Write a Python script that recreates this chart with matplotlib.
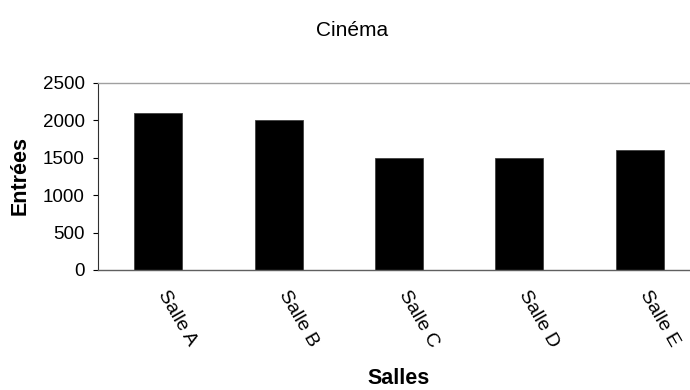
import matplotlib
matplotlib.use("Agg")
import matplotlib.pyplot as plt

salles = ["Salle A", "Salle B", "Salle C", "Salle D", "Salle E"]
entrees = [2100, 2000, 1500, 1500, 1600]
yticks = [0, 500, 1000, 1500, 2000, 2500]

plt.rcParams["font.family"] = ["Liberation Sans", "DejaVu Sans"]

W, H = 690, 390
fig = plt.figure(figsize=(W / 100, H / 100), dpi=100)
left, right, bottom, top = 98, 700, 270, 83
ax = fig.add_axes([left / W, (H - bottom) / H, (right - left) / W, (bottom - top) / H])

x = range(len(salles))
ax.bar(x, entrees, width=0.4, color="black", edgecolor="#404040", linewidth=0.6)

ax.set_xlim(-0.5, len(salles) - 0.5)
ax.set_ylim(0, 2500)
ax.set_yticks(yticks)
ax.set_yticklabels([str(v) for v in yticks], fontsize=13.5)
ax.set_xticks(list(x))
ax.set_xticklabels(salles, fontsize=14, rotation=-60, ha="left", va="baseline",
                   rotation_mode="anchor")
ax.tick_params(axis="x", length=0, pad=17)
ax.tick_params(axis="y", length=3.6, width=0.8, direction="out", pad=6)

ax.spines["right"].set_visible(False)
ax.spines["top"].set_color("#a0a0a0")
ax.spines["top"].set_linewidth(1.0)
ax.spines["left"].set_color("#303030")
ax.spines["bottom"].set_color("#606060")
ax.spines["bottom"].set_linewidth(1.0)

fig.text(352 / W, 1 - 30 / H, "Cinéma", ha="center", va="center", fontsize=15)
fig.text(20 / W, 1 - 176 / H, "Entrées", ha="center", va="center", rotation=90,
         fontsize=15.5, fontweight="bold")
fig.text(399 / W, 1 - 379 / H, "Salles", ha="center", va="center",
         fontsize=15.5, fontweight="bold")

fig.savefig("out.png", dpi=100)
